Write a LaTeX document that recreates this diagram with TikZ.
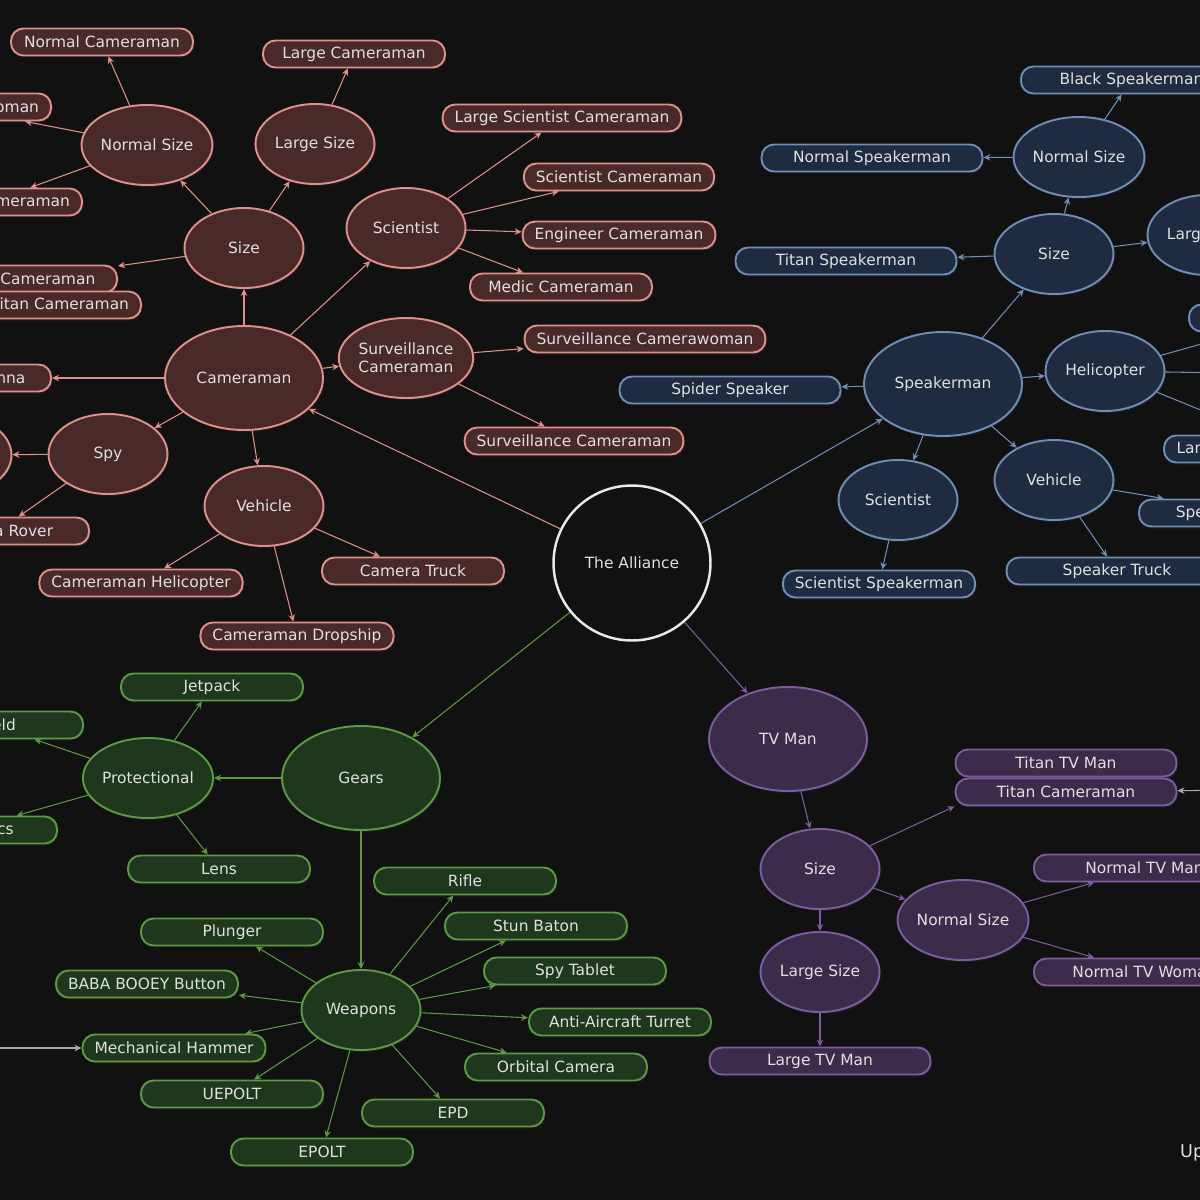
\documentclass[tikz,border=0pt]{standalone}
\usepackage{fontspec}
\setmainfont{DejaVu Sans}
\usetikzlibrary{arrows.meta, positioning, shapes.geometric, shadows}

\definecolor{bgdark}{HTML}{111111}
\definecolor{txtgrey}{HTML}{E0E0E0}
\definecolor{camfill}{HTML}{4A2929}
\definecolor{camline}{HTML}{E0908A}
\definecolor{spkfill}{HTML}{1E2B40}
\definecolor{spkline}{HTML}{6F8DB5}
\definecolor{gearfill}{HTML}{1F381D}
\definecolor{gearline}{HTML}{5B9944}
\definecolor{tvfill}{HTML}{3B2C4B}
\definecolor{tvline}{HTML}{7D5C9E}
\definecolor{allyline}{HTML}{E8E8E8}
\definecolor{offline}{HTML}{A8A8A8}

\begin{document}
\begin{tikzpicture}[x=0.02cm, y=-0.02cm,
    every node/.style={font=\fontsize{8.8}{10}\selectfont, text=txtgrey},
    bub/.style={ellipse, draw, line width=1.1pt, align=center, inner sep=0pt,
                minimum width=2.38cm, minimum height=1.6cm,
                drop shadow={shadow xshift=0.03cm, shadow yshift=-0.04cm, fill=black!70!gray}},
    hub/.style={bub, minimum width=3.16cm, minimum height=2.08cm},
    pill/.style={draw, rounded corners=0.25cm, line width=1.1pt,
                 minimum width=3.64cm, minimum height=0.54cm, inner xsep=0.24cm, inner ysep=0pt,
                 drop shadow={shadow xshift=0.03cm, shadow yshift=-0.04cm, fill=black!70!gray}},
    broad/.style={minimum width=4.42cm},
    cam/.style={fill=camfill, draw=camline},
    spk/.style={fill=spkfill, draw=spkline},
    gear/.style={fill=gearfill, draw=gearline},
    tv/.style={fill=tvfill, draw=tvline},
    conn/.style={-{Stealth[length=1.4mm, width=1.3mm]}, line width=0.6pt},
    camconn/.style={conn, camline},
    spkconn/.style={conn, spkline},
    gearconn/.style={conn, gearline},
    tvconn/.style={conn, tvline},
    offconn/.style={conn, offline}
]
    \useasboundingbox (0,0) rectangle (1200,1200);
    \fill[bgdark] (0,0) rectangle (1200,1200);
    \clip (0,0) rectangle (1200,1200);

    \node[ellipse, draw=allyline, fill=bgdark, line width=1.4pt, minimum width=3.14cm,
          minimum height=3.1cm] (ally) at (632,563) {The Alliance};

    % cameramen
    \node[hub, cam] (cam) at (244,378) {Cameraman};
    \node[bub, cam] (camsize) at (244,248) {Size};
    \node[bub, cam] (camnormal) at (147,145) {Normal Size};
    \node[bub, cam] (camlarge) at (315,144) {Large Size};
    \node[pill, cam] (normalcam) at (102,42) {Normal Cameraman};
    \node[pill, cam] (largecam) at (354,54) {Large Cameraman};
    \node[pill, cam, anchor=east] (camwoman) at (52,107) {Normal Camerawoman};
    \node[pill, cam, anchor=east] (plungercam) at (83,202) {Plunger Cameraman};
    \node[pill, cam, anchor=east] (titancam) at (118,279) {Titan Cameraman};
    \node[pill, cam, anchor=east] (uptitan) at (142,305) {Upgraded Titan Cameraman};
    \node[bub, cam] (camsci) at (406,228) {Scientist};
    \node[pill, cam] (largesci) at (562,118) {Large Scientist Cameraman};
    \node[pill, cam] (scicam) at (619,177) {Scientist Cameraman};
    \node[pill, cam] (engcam) at (619,235) {Engineer Cameraman};
    \node[pill, cam] (medcam) at (561,287) {Medic Cameraman};
    \node[bub, cam] (survcam) at (406,358) {Surveillance\\Cameraman};
    \node[pill, cam] (survwoman) at (645,339) {Surveillance Camerawoman};
    \node[pill, cam] (survman) at (574,441) {Surveillance Cameraman};
    \node[pill, cam, anchor=east] (antenna) at (52,378) {Camera Antenna};
    \node[bub, cam] (spy) at (108,454) {Spy};
    \node[bub, cam] (spyleft) at (-48,455) {};
    \node[pill, cam, anchor=east] (rover) at (90,531) {Camera Rover};
    \node[bub, cam] (camveh) at (264,506) {Vehicle};
    \node[pill, cam] (camheli) at (141,583) {Cameraman Helicopter};
    \node[pill, cam] (camtruck) at (413,571) {Camera Truck};
    \node[pill, cam] (dropship) at (297,636) {Cameraman Dropship};

    % speakermen
    \node[hub, spk] (spk) at (943,384) {Speakerman};
    \node[bub, spk] (spksize) at (1054,254) {Size};
    \node[bub, spk] (spknormal) at (1079,157) {Normal Size};
    \node[bub, spk] (spklarge) at (1207,235) {Large Size};
    \node[pill, spk, broad, anchor=west] (blackspk) at (1020,80) {Black Speakerman};
    \node[pill, spk, broad] (normalspk) at (872,158) {Normal Speakerman};
    \node[pill, spk, broad] (titanspk) at (846,261) {Titan Speakerman};
    \node[pill, spk, broad] (spider) at (730,390) {Spider Speaker};
    \node[bub, spk] (spkheli) at (1105,371) {Helicopter};
    \node[pill, spk, broad, anchor=west] (heliup) at (1188,318) {};
    \node[pill, spk, broad, anchor=west] (largeheli) at (1163,449) {Large Speaker Helicopter};
    \node[bub, spk] (spkveh) at (1054,480) {Vehicle};
    \node[pill, spk, broad, anchor=west] (speakheli) at (1138,513) {Speaker Helicopter};
    \node[pill, spk, broad] (spktruck) at (1117,571) {Speaker Truck};
    \node[bub, spk] (spksci) at (898,500) {Scientist};
    \node[pill, spk] (scispk) at (879,584) {Scientist Speakerman};
    \coordinate (heliA) at (1230,336);
    \coordinate (heliB) at (1230,373);
    \coordinate (heliC) at (1230,422);

    % gears
    \node[hub, gear] (gears) at (361,778) {Gears};
    \node[bub, gear] (prot) at (148,778) {Protectional};
    \node[pill, gear] (jetpack) at (212,687) {Jetpack};
    \node[pill, gear, anchor=east] (shield) at (84,725) {Shield};
    \node[pill, gear, anchor=east] (optics) at (58,830) {Night Optics};
    \node[pill, gear] (lens) at (219,869) {Lens};
    \node[bub, gear] (weapons) at (361,1010) {Weapons};
    \node[pill, gear] (rifle) at (465,881) {Rifle};
    \node[pill, gear] (baton) at (536,926) {Stun Baton};
    \node[pill, gear] (tablet) at (575,971) {Spy Tablet};
    \node[pill, gear] (turret) at (620,1022) {Anti-Aircraft Turret};
    \node[pill, gear] (orbital) at (556,1067) {Orbital Camera};
    \node[pill, gear] (epd) at (453,1113) {EPD};
    \node[pill, gear] (epolt) at (322,1152) {EPOLT};
    \node[pill, gear] (uepolt) at (232,1094) {UEPOLT};
    \node[pill, gear] (hammer) at (174,1048) {Mechanical Hammer};
    \node[pill, gear] (booey) at (147,984) {BABA BOOEY Button};
    \node[pill, gear] (plunger) at (232,932) {Plunger};
    \coordinate (hammerin) at (-30,1048);

    % tv men
    \node[hub, tv] (tvman) at (788,739) {TV Man};
    \node[bub, tv] (tvsize) at (820,869) {Size};
    \node[bub, tv] (tvnormal) at (963,920) {Normal Size};
    \node[bub, tv] (tvlarge) at (820,972) {Large Size};
    \node[pill, tv, broad] (largetv) at (820,1061) {Large TV Man};
    \node[pill, tv, broad] (titantv) at (1066,763) {Titan TV Man};
    \node[pill, tv, broad, below=0pt of titantv] (titancamtv) {Titan Cameraman};
    \node[pill, tv, broad, anchor=west] (normaltv) at (1033,868) {Normal TV Man};
    \node[pill, tv, broad, anchor=west] (normaltvw) at (1033,972) {Normal TV Woman};
    \coordinate (titanin) at (1240,790);

    \node[anchor=west, font=\fontsize{10}{12}\selectfont] (updated) at (1174,1153) {Updated};

    \draw[camconn] (ally) -- (cam);
    \draw[camconn] (cam) -- (camsize);
    \draw[camconn] (camsize) -- (camnormal);
    \draw[camconn] (camsize) -- (camlarge);
    \draw[camconn] (camsize) -- (titancam);
    \draw[camconn] (camnormal) -- (normalcam);
    \draw[camconn] (camnormal) -- (camwoman);
    \draw[camconn] (camnormal) -- (plungercam);
    \draw[camconn] (camlarge) -- (largecam);
    \draw[camconn] (cam) -- (camsci);
    \draw[camconn] (camsci) -- (largesci);
    \draw[camconn] (camsci) -- (scicam);
    \draw[camconn] (camsci) -- (engcam);
    \draw[camconn] (camsci) -- (medcam);
    \draw[camconn] (cam) -- (survcam);
    \draw[camconn] (survcam) -- (survwoman);
    \draw[camconn] (survcam) -- (survman);
    \draw[camconn] (cam) -- (antenna);
    \draw[camconn] (cam) -- (spy);
    \draw[camconn] (spy) -- (spyleft);
    \draw[camconn] (spy) -- (rover);
    \draw[camconn] (cam) -- (camveh);
    \draw[camconn] (camveh) -- (camheli);
    \draw[camconn] (camveh) -- (camtruck);
    \draw[camconn] (camveh) -- (dropship);

    \draw[spkconn] (ally) -- (spk);
    \draw[spkconn] (spk) -- (spksize);
    \draw[spkconn] (spksize) -- (spknormal);
    \draw[spkconn] (spksize) -- (titanspk);
    \draw[spkconn] (spksize) -- (spklarge);
    \draw[spkconn] (spknormal) -- (normalspk);
    \draw[spkconn] (spknormal) -- (blackspk);
    \draw[spkconn] (spk) -- (spider);
    \draw[spkconn] (spk) -- (spkheli);
    \draw[spkconn] (spkheli) -- (heliA);
    \draw[spkconn] (spkheli) -- (heliB);
    \draw[spkconn] (spkheli) -- (heliC);
    \draw[spkconn] (spk) -- (spkveh);
    \draw[spkconn] (spkveh) -- (speakheli);
    \draw[spkconn] (spkveh) -- (spktruck);
    \draw[spkconn] (spk) -- (spksci);
    \draw[spkconn] (spksci) -- (scispk);

    \draw[gearconn] (ally) -- (gears);
    \draw[gearconn] (gears) -- (prot);
    \draw[gearconn] (prot) -- (jetpack);
    \draw[gearconn] (prot) -- (shield);
    \draw[gearconn] (prot) -- (optics);
    \draw[gearconn] (prot) -- (lens);
    \draw[gearconn] (gears) -- (weapons);
    \foreach \w in {rifle, baton, tablet, turret, orbital, epd, epolt, uepolt, hammer, booey, plunger}
        \draw[gearconn] (weapons) -- (\w);
    \draw[offconn] (hammerin) -- (hammer);

    \draw[tvconn] (ally) -- (tvman);
    \draw[tvconn] (tvman) -- (tvsize);
    \draw[tvconn] (tvsize) -- (titancamtv.south west);
    \draw[tvconn] (tvsize) -- (tvnormal);
    \draw[tvconn] (tvsize) -- (tvlarge);
    \draw[tvconn] (tvnormal) -- (normaltv);
    \draw[tvconn] (tvnormal) -- (normaltvw);
    \draw[tvconn] (tvlarge) -- (largetv);
    \draw[offconn] (titanin) -- (titancamtv);
\end{tikzpicture}
\end{document}
